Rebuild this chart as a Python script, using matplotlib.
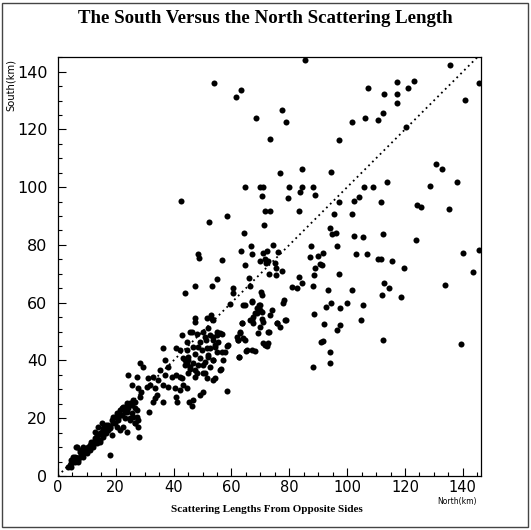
import matplotlib
matplotlib.use("Agg")
import matplotlib.pyplot as plt
from matplotlib.patches import Rectangle
from matplotlib.ticker import MultipleLocator

# scattering lengths (km): (north, south) pairs, grouped by region of the plot
inner_band = [
    (4.2, 3.8), (5.3, 5.0), (4.7, 5.5), (6.5, 6.1), (7.0, 5.0), (5.9, 6.7), (8.2, 7.3),
    (7.6, 8.4), (9.3, 9.0), (9.9, 7.8), (8.8, 6.7), (10.5, 10.1), (11.6, 10.7), (11.1, 9.0),
    (12.2, 11.9), (13.4, 11.3), (12.8, 13.0), (14.0, 14.2), (14.5, 12.5), (15.1, 15.3),
    (16.3, 14.8), (15.7, 16.5), (17.4, 15.9), (16.8, 17.6), (18.0, 17.1), (18.6, 19.4),
    (19.7, 18.2), (19.1, 20.5), (20.9, 20.0), (20.3, 21.7), (22.0, 21.1), (21.5, 22.8),
    (23.2, 22.3), (22.6, 24.0), (24.3, 23.4), (23.8, 25.1), (25.5, 24.6), (26.6, 25.7),
    (27.2, 22.8), (26.1, 20.5), (27.8, 19.4), (26.6, 18.2), (24.9, 19.4), (14.0, 17.1),
    (12.8, 15.3), (6.5, 10.1), (3.6, 3.2), (4.7, 3.2), (4.7, 4.4), (5.9, 5.0), (7.0, 5.5),
    (7.6, 6.7), (5.3, 6.7), (8.8, 7.8), (7.6, 9.0), (8.8, 10.1), (9.9, 9.6), (10.5, 9.0),
    (11.1, 10.7), (12.2, 10.1), (11.6, 11.9), (12.8, 11.3), (13.4, 12.5), (14.5, 11.9),
    (13.4, 14.2), (14.5, 14.8), (15.7, 13.6), (15.7, 15.9), (16.8, 14.8), (18.6, 14.2),
    (15.1, 18.2), (16.3, 17.1), (17.4, 17.6), (18.0, 16.5), (19.1, 18.2), (20.3, 17.1),
    (21.4, 15.9), (22.6, 17.1), (23.8, 15.3), (20.9, 19.4), (19.7, 20.5), (21.4, 21.1),
    (23.2, 19.9), (24.9, 19.9), (27.2, 20.5), (26.6, 18.2), (27.8, 17.1), (28.1, 13.6),
    (23.8, 22.3), (25.5, 21.7), (26.6, 23.4), (22.0, 23.4), (23.2, 24.0), (24.9, 25.1),
    (26.1, 26.3), (18.0, 7.3), (6.2, 10.1), (31.5, 22.3),
]

middle_band = [
    (28.4, 27.4), (28.9, 29.2), (27.8, 30.3), (25.5, 31.5), (24.3, 34.9), (27.2, 34.4),
    (28.4, 39.0), (29.5, 37.8), (30.7, 30.9), (31.8, 31.5), (33.6, 30.3), (34.1, 28.0),
    (33.6, 26.9), (32.8, 25.7), (36.4, 25.5), (31.2, 33.8), (33.0, 34.4), (34.7, 33.2),
    (36.4, 31.5), (38.2, 30.9), (40.5, 30.3), (42.2, 29.7), (44.5, 30.3), (43.4, 31.5),
    (42.8, 33.8), (41.0, 34.9), (39.3, 34.4), (37.0, 34.9), (35.3, 36.7), (38.2, 37.8),
    (37.0, 40.1), (41.0, 27.4), (41.2, 25.7), (45.2, 25.7), (46.3, 24.2), (46.8, 26.3),
    (49.1, 28.2), (50.3, 29.2), (58.6, 29.4), (36.4, 44.2), (41.0, 44.2), (46.8, 44.7),
    (43.9, 40.1), (44.7, 38.7), (45.7, 37.2), (47.4, 36.7), (48.5, 38.4), (50.8, 39.5),
    (52.0, 41.3), (52.6, 37.8), (45.1, 41.3), (47.4, 42.4), (49.7, 43.6), (52.6, 44.2),
    (54.3, 45.3), (55.5, 46.5), (56.6, 49.3), (54.9, 48.8), (53.7, 48.2), (51.2, 47.0),
    (49.1, 46.5), (44.5, 46.5), (42.8, 48.8), (45.7, 49.9), (48.0, 49.3), (50.3, 49.9),
    (52.0, 51.1), (53.2, 54.5), (48.0, 35.5), (50.3, 35.5), (51.4, 33.8), (53.7, 33.2),
    (56.3, 36.9), (53.7, 40.1), (57.2, 40.1), (56.6, 43.0), (58.3, 45.0), (62.7, 41.3),
    (65.0, 43.4), (67.0, 43.6), (68.1, 43.4), (72.2, 45.0), (71.0, 45.9), (62.4, 47.0),
    (64.7, 47.0), (61.8, 48.2), (63.0, 49.9), (69.3, 49.6), (73.1, 49.9), (76.8, 51.7),
    (75.9, 53.0), (71.0, 53.4), (66.4, 54.0), (63.5, 52.8), (73.3, 55.7), (70.7, 54.5),
    (67.6, 55.1), (68.7, 56.3), (69.9, 57.6), (69.4, 59.1), (74.0, 57.4), (59.5, 59.7),
    (64.7, 59.1), (67.0, 60.6), (70.4, 62.6), (70.1, 63.8), (66.4, 65.8), (60.6, 63.2),
    (60.4, 65.0), (43.8, 63.5), (53.4, 65.8), (47.5, 65.8), (47.4, 54.6), (47.4, 53.4),
    (51.4, 54.6), (53.1, 55.7), (53.7, 54.0), (46.3, 49.9), (50.9, 48.2), (52.6, 48.8),
    (53.7, 47.1), (54.9, 49.9), (56.1, 49.4), (42.2, 43.6), (44.5, 43.6), (48.5, 44.7),
    (51.5, 44.2), (54.3, 44.7), (54.9, 43.0), (52.0, 41.9), (57.8, 43.0), (58.9, 45.3),
    (43.4, 40.7), (45.1, 40.1), (43.9, 38.4), (45.7, 37.8), (46.8, 39.0), (49.1, 40.7),
    (50.3, 38.4), (53.7, 40.1), (50.9, 35.5), (54.3, 33.8), (56.1, 36.7), (42.2, 34.4),
    (45.1, 35.5), (47.4, 34.4), (62.7, 41.1), (65.3, 43.6), (63.0, 49.4), (64.1, 47.6),
    (62.4, 47.1), (67.0, 54.0), (67.6, 52.8), (69.9, 51.7), (63.6, 52.8), (75.7, 52.8),
    (78.5, 54.0), (72.8, 49.9), (72.8, 45.9), (71.6, 45.3), (69.9, 59.2), (68.7, 58.0),
    (70.5, 56.9), (68.2, 56.3), (64.1, 59.2), (67.0, 60.3),
]

outer_scatter = [
    (54.1, 136.0), (63.2, 133.7), (61.6, 131.1), (77.5, 126.8), (68.4, 124.0), (78.8, 122.5),
    (73.5, 116.7), (76.8, 105.0), (64.7, 99.9), (69.9, 99.9), (71.0, 99.9), (80.0, 99.9),
    (70.4, 97.0), (79.4, 96.1), (42.6, 95.2), (71.7, 91.6), (73.2, 91.8), (58.5, 90.0),
    (52.4, 87.9), (71.2, 87.0), (64.4, 84.2), (66.8, 79.8), (74.4, 79.9), (63.3, 78.0),
    (67.2, 77.0), (70.8, 77.3), (72.3, 77.8), (76.0, 77.4), (48.4, 76.8), (48.8, 75.4),
    (56.7, 74.9), (69.9, 74.4), (71.6, 75.0), (72.8, 74.6), (75.1, 73.9), (64.7, 73.0),
    (72.0, 73.7), (75.3, 71.9), (77.6, 71.1), (72.9, 70.1), (75.3, 69.6), (54.9, 68.1),
    (65.9, 68.4), (85.6, 144.2), (135.5, 142.4), (145.6, 136.2), (123.1, 136.8),
    (117.2, 136.4), (121.0, 134.5), (107.3, 134.4), (112.9, 132.4), (117.2, 132.2),
    (117.2, 129.1), (140.9, 130.2), (112.3, 125.8), (101.6, 122.7), (106.0, 123.8),
    (110.8, 123.4), (120.2, 121.0), (97.2, 116.3), (84.3, 106.3), (94.5, 105.4),
    (130.8, 108.1), (132.8, 106.3), (137.9, 101.8), (128.5, 100.3), (84.3, 100.1),
    (88.1, 100.1), (83.6, 98.3), (89.0, 97.2), (105.9, 100.1), (109.0, 100.1), (113.8, 101.8),
    (104.0, 96.7), (102.3, 95.2), (97.3, 94.9), (111.8, 94.7), (83.5, 91.9), (95.4, 90.7),
    (101.6, 90.7), (124.3, 93.8), (125.7, 93.0), (135.3, 92.4), (93.9, 85.9), (94.9, 83.8),
    (96.2, 84.2), (102.2, 83.0), (105.6, 82.8), (112.3, 83.8), (123.8, 81.6), (87.4, 79.8),
    (96.4, 79.7), (87.1, 75.8), (89.9, 76.0), (91.6, 77.2), (103.1, 76.9), (106.7, 77.0),
    (110.6, 75.0), (111.8, 75.3), (115.6, 74.4), (140.0, 77.2), (145.7, 78.4), (88.8, 71.9),
    (90.5, 73.3), (91.2, 72.9), (119.6, 71.9), (88.6, 69.6), (83.3, 68.8), (97.2, 70.1),
    (143.4, 70.5), (112.8, 66.7), (133.8, 66.2), (81.0, 65.5), (82.8, 65.1), (84.4, 66.7),
    (88.3, 65.7), (114.5, 65.1), (93.4, 64.3), (101.6, 64.5), (111.9, 62.7), (118.7, 62.0),
    (78.2, 60.9), (77.9, 59.8), (94.4, 60.0), (92.8, 58.5), (97.5, 58.2), (99.9, 60.0),
    (105.6, 59.1), (88.6, 56.2), (78.7, 54.0), (92.1, 52.6), (104.8, 54.0), (97.7, 52.1),
    (96.6, 50.5), (112.3, 47.2), (91.0, 46.4), (91.8, 46.6), (94.1, 42.8), (93.9, 39.1),
    (88.1, 37.8), (139.4, 45.8),
]

xticks = [0, 20, 40, 60, 80, 100, 120, 140]
yticks = [0, 20, 40, 60, 80, 100, 120, 140]

points = inner_band + middle_band + outer_scatter
north = [p[0] for p in points]
south = [p[1] for p in points]

fig = plt.figure(figsize=(5.31, 5.30), dpi=100)
ax = fig.add_axes([0.109, 0.102, 0.797, 0.790])

ax.scatter(north, south, s=19, c="black", linewidths=0, zorder=3)
# equal-length reference line
ax.plot([0, 146.3], [0, 146.3], color="black", lw=1.3, ls=(0, (1, 2)), zorder=2)

ax.set_xlim(0, 146.3)
ax.set_ylim(0, 145)
ax.set_xticks(xticks)
ax.set_yticks(yticks)
ax.xaxis.set_minor_locator(MultipleLocator(5))
ax.yaxis.set_minor_locator(MultipleLocator(5))
ax.tick_params(which="both", direction="in", width=0.8)
ax.tick_params(which="major", length=6)
ax.tick_params(which="minor", length=3)
ax.tick_params(axis="y", pad=7.5, labelsize=11.5)
ax.tick_params(axis="x", pad=3, labelsize=10.5)
for sp in ax.spines.values():
    sp.set_linewidth(0.9)

fig.text(0.5, 0.966, "The South Versus the North Scattering Length",
         ha="center", va="center", family="Liberation Serif",
         fontweight="bold", fontsize=13.6)
fig.text(0.503, 0.038, "Scattering Lengths From Opposite Sides",
         ha="center", va="center", family="Liberation Serif",
         fontweight="bold", fontsize=8)
fig.text(0.861, 0.053, "North(km)", ha="center", va="center", fontsize=5.5)
# y-axis unit label tucked into the corner left of the top tick label
fig.text(0.021, 0.84, "South(km)", ha="center", va="center", rotation=90,
         fontsize=7.2)

# page frame
fig.patches.append(Rectangle((0.004, 0.005), 0.99, 0.99, transform=fig.transFigure,
                             fill=False, edgecolor="#444444", lw=1.0))

fig.savefig("out.png", dpi=100)
